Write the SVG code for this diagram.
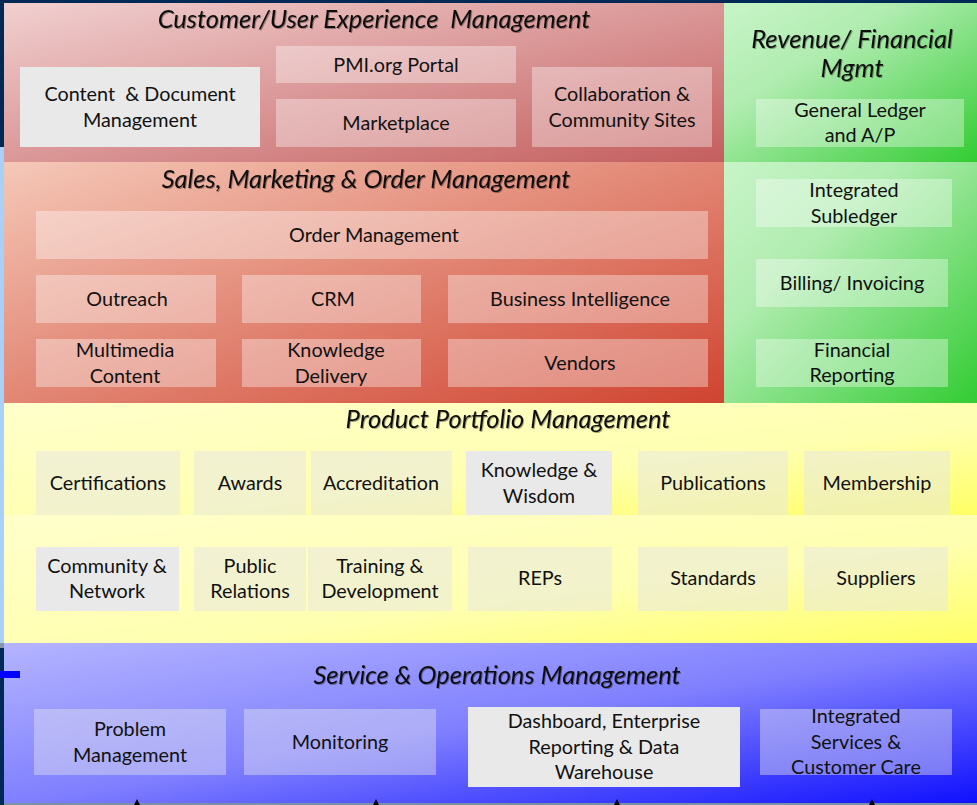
<svg xmlns="http://www.w3.org/2000/svg" width="977" height="805" viewBox="0 0 977 805">
  <defs>
    <linearGradient id="gRed1" x1="0" y1="0" x2="1" y2="1">
      <stop offset="0" stop-color="#f1d0d0"/>
      <stop offset="1" stop-color="#c45e5e"/>
    </linearGradient>
    <linearGradient id="gRed2" x1="0" y1="0" x2="1" y2="1">
      <stop offset="0" stop-color="#f5c8b8"/>
      <stop offset="1" stop-color="#cf4430"/>
    </linearGradient>
    <linearGradient id="gGreen" x1="0" y1="0" x2="1" y2="1">
      <stop offset="0" stop-color="#c8f4c8"/>
      <stop offset="0.35" stop-color="#b0ecb0"/>
      <stop offset="1" stop-color="#33cc33"/>
    </linearGradient>
    <linearGradient id="gYellow" x1="0" y1="0" x2="1" y2="1">
      <stop offset="0" stop-color="#ffffcc"/>
      <stop offset="0.6" stop-color="#ffffb0"/>
      <stop offset="1" stop-color="#ffff66"/>
    </linearGradient>
    <linearGradient id="gBlue" x1="0" y1="0" x2="1" y2="1">
      <stop offset="0" stop-color="#b4b4ff"/>
      <stop offset="0.5" stop-color="#8080ff"/>
      <stop offset="1" stop-color="#1010ff"/>
    </linearGradient>
    <filter id="shadow" x="-5%" y="-20%" width="110%" height="150%">
      <feDropShadow dx="1" dy="1" stdDeviation="0.6" flood-color="#000" flood-opacity="0.35"/>
    </filter>
  </defs>
  <style>
    .title { font-family: Lato, "Liberation Sans", sans-serif; font-style: italic; font-size: 25.5px; fill: #111; text-anchor: middle; }
    .lbl { font-family: Lato, "Liberation Sans", sans-serif; font-size: 19.8px; fill: #111; text-anchor: middle; }
    .box { fill: #ffffff; fill-opacity: 0.36; }
    .gbox { fill: #e9e9e9; }
    .ybox { fill: #e6e6e6; fill-opacity: 0.5; }
    .bbox { fill: #e0e0f0; fill-opacity: 0.45; }
  </style>

  <!-- background -->
  <rect x="0" y="0" width="977" height="805" fill="#002a55"/>
  <rect x="0" y="147" width="4" height="496" fill="#a8d0f8"/>
  <rect x="0" y="643" width="4" height="5" fill="#8898a8"/>
  <rect x="4" y="803" width="973" height="2" fill="#7890a8"/>

  <!-- bands -->
  <g id="band-customer">
    <rect x="4" y="3" width="720" height="159" fill="url(#gRed1)"/>
    <text class="title" x="374" y="28" filter="url(#shadow)" xml:space="preserve">Customer/User Experience  Management</text>
  </g>
  <g id="band-sales">
    <rect x="4" y="162" width="720" height="241" fill="url(#gRed2)"/>
    <text class="title" x="366" y="188" filter="url(#shadow)">Sales, Marketing &amp; Order Management</text>
  </g>
  <g id="band-revenue">
    <rect x="724" y="3" width="253" height="159" fill="url(#gGreen)"/>
    <rect x="724" y="162" width="253" height="241" fill="url(#gGreen)"/>
    <text class="title" x="852" y="48" filter="url(#shadow)">Revenue/ Financial</text>
    <text class="title" x="852" y="77" filter="url(#shadow)">Mgmt</text>
  </g>
  <g id="band-product">
    <rect x="4" y="403" width="973" height="112" fill="url(#gYellow)"/>
    <rect x="4" y="515" width="973" height="128" fill="url(#gYellow)"/>
    <text class="title" x="508" y="428" filter="url(#shadow)">Product Portfolio Management</text>
  </g>
  <g id="band-service">
    <rect x="4" y="643" width="973" height="160" fill="url(#gBlue)"/>
    <text class="title" x="497" y="684" filter="url(#shadow)">Service &amp; Operations Management</text>
  </g>
  <rect x="0" y="671" width="20" height="7" fill="#0000ff"/>

  <!-- Customer/User Experience nodes -->
  <g id="content-doc">
    <rect class="gbox" x="20" y="67" width="240" height="80"/>
    <text class="lbl" x="140" y="101" xml:space="preserve">Content  &amp; Document</text>
    <text class="lbl" x="140" y="127">Management</text>
  </g>
  <g id="pmi-portal">
    <rect class="box" x="276" y="46" width="240" height="37"/>
    <text class="lbl" x="396" y="72">PMI.org Portal</text>
  </g>
  <g id="marketplace">
    <rect class="box" x="276" y="99" width="240" height="48"/>
    <text class="lbl" x="396" y="130">Marketplace</text>
  </g>
  <g id="collaboration">
    <rect class="box" x="532" y="67" width="180" height="80"/>
    <text class="lbl" x="622" y="101">Collaboration &amp;</text>
    <text class="lbl" x="622" y="127">Community Sites</text>
  </g>

  <!-- Sales nodes -->
  <g id="order-mgmt">
    <rect class="box" x="36" y="211" width="672" height="48"/>
    <text class="lbl" x="374" y="242">Order Management</text>
  </g>
  <g id="outreach">
    <rect class="box" x="36" y="275" width="180" height="48"/>
    <text class="lbl" x="127" y="306">Outreach</text>
  </g>
  <g id="crm">
    <rect class="box" x="242" y="275" width="179" height="48"/>
    <text class="lbl" x="333" y="306">CRM</text>
  </g>
  <g id="bi">
    <rect class="box" x="448" y="275" width="260" height="48"/>
    <text class="lbl" x="580" y="306">Business Intelligence</text>
  </g>
  <g id="multimedia">
    <rect class="box" x="36" y="339" width="180" height="48"/>
    <text class="lbl" x="125" y="357">Multimedia</text>
    <text class="lbl" x="125" y="383">Content</text>
  </g>
  <g id="knowledge-delivery">
    <rect class="box" x="242" y="339" width="179" height="48"/>
    <text class="lbl" x="336" y="357">Knowledge</text>
    <text class="lbl" x="331" y="383">Delivery</text>
  </g>
  <g id="vendors">
    <rect class="box" x="448" y="339" width="260" height="48"/>
    <text class="lbl" x="580" y="370">Vendors</text>
  </g>

  <!-- Revenue nodes -->
  <g id="general-ledger">
    <rect class="box" x="756" y="99" width="208" height="48"/>
    <text class="lbl" x="860" y="117">General Ledger</text>
    <text class="lbl" x="860" y="142">and A/P</text>
  </g>
  <g id="subledger">
    <rect class="box" x="756" y="179" width="196" height="48"/>
    <text class="lbl" x="854" y="197">Integrated</text>
    <text class="lbl" x="854" y="223">Subledger</text>
  </g>
  <g id="billing">
    <rect class="box" x="756" y="259" width="192" height="48"/>
    <text class="lbl" x="852" y="290">Billing/ Invoicing</text>
  </g>
  <g id="fin-reporting">
    <rect class="box" x="756" y="339" width="192" height="48"/>
    <text class="lbl" x="852" y="357">Financial</text>
    <text class="lbl" x="852" y="382">Reporting</text>
  </g>

  <!-- Product Portfolio nodes -->
  <g id="certifications">
    <rect class="ybox" x="36" y="451" width="144" height="64"/>
    <text class="lbl" x="108" y="490">Certifications</text>
  </g>
  <g id="awards">
    <rect class="ybox" x="194" y="451" width="112" height="64"/>
    <text class="lbl" x="250" y="490">Awards</text>
  </g>
  <g id="accreditation">
    <rect class="ybox" x="311" y="451" width="141" height="64"/>
    <text class="lbl" x="381" y="490">Accreditation</text>
  </g>
  <g id="knowledge-wisdom">
    <rect class="gbox" x="466" y="451" width="146" height="64"/>
    <text class="lbl" x="539" y="477">Knowledge &amp;</text>
    <text class="lbl" x="539" y="503">Wisdom</text>
  </g>
  <g id="publications">
    <rect class="ybox" x="638" y="451" width="150" height="64"/>
    <text class="lbl" x="713" y="490">Publications</text>
  </g>
  <g id="membership">
    <rect class="ybox" x="804" y="451" width="146" height="64"/>
    <text class="lbl" x="877" y="490">Membership</text>
  </g>
  <g id="community-network">
    <rect class="gbox" x="36" y="547" width="143" height="64"/>
    <text class="lbl" x="107" y="573">Community &amp;</text>
    <text class="lbl" x="107" y="598">Network</text>
  </g>
  <g id="public-relations">
    <rect class="ybox" x="194" y="547" width="112" height="64"/>
    <text class="lbl" x="250" y="573">Public</text>
    <text class="lbl" x="250" y="598">Relations</text>
  </g>
  <g id="training">
    <rect class="ybox" x="308" y="547" width="144" height="64"/>
    <text class="lbl" x="380" y="573">Training &amp;</text>
    <text class="lbl" x="380" y="598">Development</text>
  </g>
  <g id="reps">
    <rect class="ybox" x="468" y="547" width="144" height="64"/>
    <text class="lbl" x="540" y="585">REPs</text>
  </g>
  <g id="standards">
    <rect class="ybox" x="638" y="547" width="150" height="64"/>
    <text class="lbl" x="713" y="585">Standards</text>
  </g>
  <g id="suppliers">
    <rect class="ybox" x="804" y="547" width="144" height="64"/>
    <text class="lbl" x="876" y="585">Suppliers</text>
  </g>

  <!-- Service & Operations nodes -->
  <g id="problem-mgmt">
    <rect class="bbox" x="34" y="709" width="192" height="66"/>
    <text class="lbl" x="130" y="736">Problem</text>
    <text class="lbl" x="130" y="762">Management</text>
  </g>
  <g id="monitoring">
    <rect class="bbox" x="244" y="709" width="192" height="66"/>
    <text class="lbl" x="340" y="749">Monitoring</text>
  </g>
  <g id="dashboard">
    <rect class="gbox" x="468" y="707" width="272" height="80"/>
    <text class="lbl" x="604" y="728">Dashboard, Enterprise</text>
    <text class="lbl" x="604" y="754">Reporting &amp; Data</text>
    <text class="lbl" x="604" y="779">Warehouse</text>
  </g>
  <g id="integrated-services">
    <rect class="bbox" x="760" y="709" width="192" height="66"/>
    <text class="lbl" x="856" y="723">Integrated</text>
    <text class="lbl" x="856" y="749">Services &amp;</text>
    <text class="lbl" x="856" y="774">Customer Care</text>
  </g>

  <!-- connectors (arrowheads entering from below) -->
  <g id="connectors" fill="#000">
    <polygon points="137,799 134,805 140,805"/>
    <polygon points="376,799 373,805 379,805"/>
    <polygon points="617,799 614,805 620,805"/>
    <polygon points="872,799 869,805 875,805"/>
  </g>
</svg>
